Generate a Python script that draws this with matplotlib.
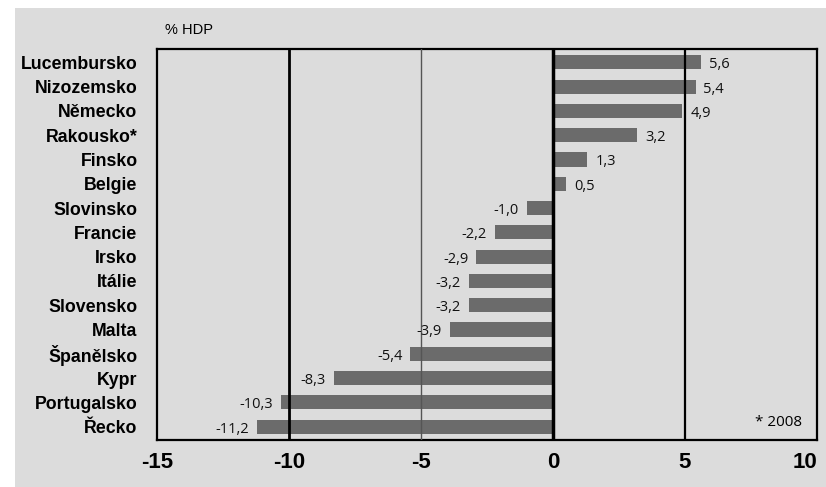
import matplotlib.pyplot as plt
from matplotlib.patches import Rectangle

countries = ['Lucembursko', 'Nizozemsko', 'Německo', 'Rakousko*', 'Finsko', 'Belgie',
             'Slovinsko', 'Francie', 'Irsko', 'Itálie', 'Slovensko', 'Malta',
             'Španělsko', 'Kypr', 'Portugalsko', 'Řecko']
values = [5.6, 5.4, 4.9, 3.2, 1.3, 0.5, -1.0, -2.2, -2.9, -3.2, -3.2, -3.9,
          -5.4, -8.3, -10.3, -11.2]
xticks = [-15, -10, -5, 0, 5, 10]

bg = '#dcdcdc'
bar_color = '#6b6b6b'

fig = plt.figure(figsize=(8.26, 4.87), dpi=100)
fig.patch.set_facecolor('white')
fig.patches.append(Rectangle((15 / 826, 0), 1, 1 - 8 / 487, transform=fig.transFigure,
                             facecolor=bg, edgecolor='none', zorder=-10))

ax = fig.add_axes([157 / 826, 1 - 440 / 487, 660 / 826, 391 / 487])
ax.set_facecolor(bg)

y = list(range(len(countries)))[::-1]
ax.barh(y, values, height=0.58, color=bar_color, zorder=2)

ax.set_xlim(-15, 10)
ax.set_ylim(-0.55, len(countries) - 0.45)

# vertical guide lines
ax.axvline(-10, color='black', lw=2, zorder=3)
ax.axvline(-5, color='#555555', lw=1, zorder=3)
ax.axvline(0, color='black', lw=2.5, zorder=3)
ax.axvline(5, color='black', lw=1.6, zorder=3)

for side in ax.spines.values():
    side.set_linewidth(1.6)

# value labels with decimal comma
for yi, v in zip(y, values):
    txt = f'{v:.1f}'.replace('.', ',')
    if v >= 0:
        ax.text(v + 0.3, yi - 0.1, txt, ha='left', va='center', fontsize=10.5,
                family='Open Sans', color='#111111', zorder=4)
    else:
        ax.text(v - 0.3, yi - 0.1, txt, ha='right', va='center', fontsize=10.5,
                family='Open Sans', color='#111111', zorder=4)

ax.set_yticks(y)
ax.set_yticklabels(countries, fontsize=12.8, fontweight='bold', family='Liberation Sans')
ax.set_xticks(xticks)
ax.set_xticklabels([str(t) for t in xticks], fontsize=16, fontweight='bold',
                   family='Liberation Sans')
ax.get_xticklabels()[-1].set_horizontalalignment('right')
ax.tick_params(axis='both', length=0)
ax.tick_params(axis='y', pad=14)
ax.tick_params(axis='x', pad=9)

fig.text(165 / 826, 1 - 30 / 487, '% HDP', fontsize=10.5, family='Liberation Sans',
         va='center', ha='left')
ax.text(0.977, 0.045, '* 2008', transform=ax.transAxes, fontsize=11,
        family='Open Sans', ha='right', va='center')

fig.savefig('out.png', dpi=100, facecolor=fig.get_facecolor())
